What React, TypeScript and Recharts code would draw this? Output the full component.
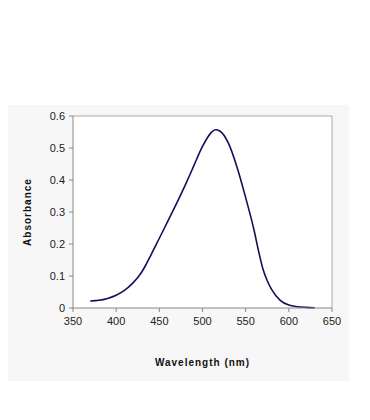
import React from "react";
import { LineChart, Line, XAxis, YAxis, CartesianGrid, ReferenceLine, Label } from "recharts";

const wavelengths = [370, 380, 390, 400, 410, 415, 420, 425, 430, 435, 440, 450, 460, 470, 475, 480, 485, 490, 500, 510, 515, 520, 530, 540, 550, 560, 565, 570, 575, 580, 590, 600, 610, 620, 630];
const absorbance = [0.022, 0.024, 0.03, 0.04, 0.056, 0.067, 0.08, 0.095, 0.114, 0.138, 0.164, 0.218, 0.272, 0.327, 0.355, 0.384, 0.414, 0.445, 0.505, 0.548, 0.557, 0.553, 0.515, 0.44, 0.345, 0.24, 0.177, 0.122, 0.085, 0.058, 0.024, 0.009, 0.004, 0.002, 0.001];
const xTicks = [350, 400, 450, 500, 550, 600, 650];
const yTicks = [0, 0.1, 0.2, 0.3, 0.4, 0.5, 0.6];

const data = wavelengths.map((w, i) => ({ w, a: absorbance[i] }));

const tickStyle = { fontFamily: "Liberation Sans, Arial, sans-serif", fontSize: 11, fill: "#222" };
const labelStyle = { fontFamily: "Liberation Sans, Arial, sans-serif", fontSize: 10, fontWeight: "bold" as const, fill: "#111", letterSpacing: 1 };

export default function App() {
  return (
    <div>
      <div style={{ height: 97 }} />
      <div style={{ width: 341, height: 276, background: "#f7f7f7" }}>
        <LineChart width={341} height={276} data={data} margin={{ top: 11, right: 17, bottom: 0, left: 0 }}>
          <CartesianGrid fill="#ffffff" stroke="none" horizontal={false} vertical={false} />
          <XAxis
            dataKey="w"
            type="number"
            domain={[350, 650]}
            ticks={xTicks}
            tick={tickStyle}
            tickSize={4}
            tickMargin={5}
            stroke="#888"
            height={73}
          >
            <Label value="Wavelength (nm)" position="insideTop" offset={51} style={labelStyle} />
          </XAxis>
          <YAxis
            type="number"
            domain={[0, 0.6]}
            ticks={yTicks}
            tick={tickStyle}
            tickSize={4}
            tickMargin={4}
            stroke="#888"
            width={65}
            tickFormatter={(v: number) => String(v)}
          >
            <Label value="Absorbance" angle={-90} position="insideLeft" offset={19} style={{ ...labelStyle, textAnchor: "middle" }} />
          </YAxis>
          <ReferenceLine y={0.6} stroke="#aaa" />
          <ReferenceLine x={650} stroke="#aaa" />
          <Line type="monotone" dataKey="a" stroke="#10105a" strokeWidth={1.6} dot={false} isAnimationActive={false} />
        </LineChart>
      </div>
    </div>
  );
}
